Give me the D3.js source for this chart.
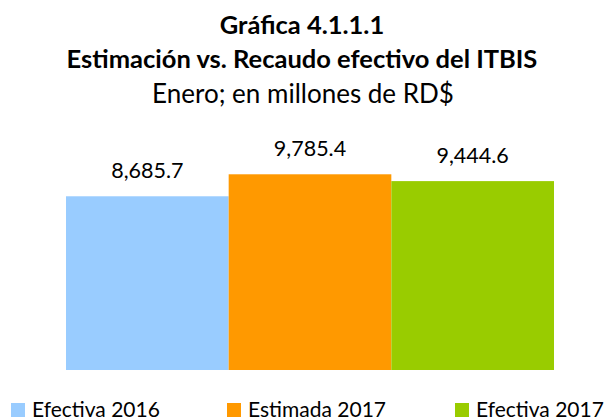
<!DOCTYPE html>
<html>
<head>
<meta charset="utf-8">
<script src="https://cdn.jsdelivr.net/npm/d3@7"></script>
<style>
  html, body { margin: 0; padding: 0; background: #fff; }
  svg { display: block; font-family: Lato, "Open Sans", sans-serif; }
</style>
</head>
<body>
<svg width="608" height="419"></svg>
<script>
// chart values
var titles = ["Gráfica 4.1.1.1", "Estimación vs. Recaudo efectivo del ITBIS"]
var subtitle = "Enero; en millones de RD$"
var series = ["Efectiva 2016", "Estimada 2017", "Efectiva 2017"]
var values = [8685.7, 9785.4, 9444.6]

var svg = d3.select("svg"),
	width = +svg.attr("width"),
	height = +svg.attr("height")

var color = d3.scaleOrdinal()
	.domain(series)
	.range(["#99ccff", "#ff9900", "#99cc00"])

var x = d3.scaleBand()
	.domain(series)
	.range([66, 554])
	.paddingInner(0)
	.paddingOuter(0)

var y = d3.scaleLinear()
	.domain([0, 12000])
	.range([370, 130])

var fmt = d3.format(",.1f")

// titles
svg.selectAll("text.title")
	.data(titles)
	.enter().append("text")
	.attr("class", "title")
	.attr("x", 302)
	.attr("y", (d, i) => 34 + i * 34)
	.attr("text-anchor", "middle")
	.style("font-weight", "bold")
	.style("font-size", "25.5px")
	.text(d => d)

svg.append("text")
	.attr("x", 303)
	.attr("y", 103)
	.attr("text-anchor", "middle")
	.style("font-size", "26px")
	.text(subtitle)

// bars
var bars = series.map((s, i) => ({ name: s, value: values[i] }))

svg.selectAll("rect.bar")
	.data(bars)
	.enter().append("rect")
	.attr("class", "bar")
	.attr("x", d => x(d.name))
	.attr("width", x.bandwidth())
	.attr("y", d => y(d.value))
	.attr("height", d => y(0) - y(d.value))
	.style("fill", d => color(d.name))

svg.selectAll("text.val")
	.data(bars)
	.enter().append("text")
	.attr("class", "val")
	.attr("x", d => x(d.name) + x.bandwidth() / 2)
	.attr("y", d => y(d.value) - 18)
	.attr("text-anchor", "middle")
	.style("font-size", "21.5px")
	.text(d => fmt(d.value))

// legend
var legendX = [11, 227, 455]
var leg = svg.selectAll("g.leg")
	.data(series)
	.enter().append("g")
	.attr("class", "leg")
	.attr("transform", (d, i) => "translate(" + legendX[i] + ",403)")

leg.append("rect")
	.attr("width", 14)
	.attr("height", 14)
	.style("fill", d => color(d))

leg.append("text")
	.attr("x", 21)
	.attr("y", 14)
	.style("font-size", "21px")
	.text(d => d)
</script>
</body>
</html>
